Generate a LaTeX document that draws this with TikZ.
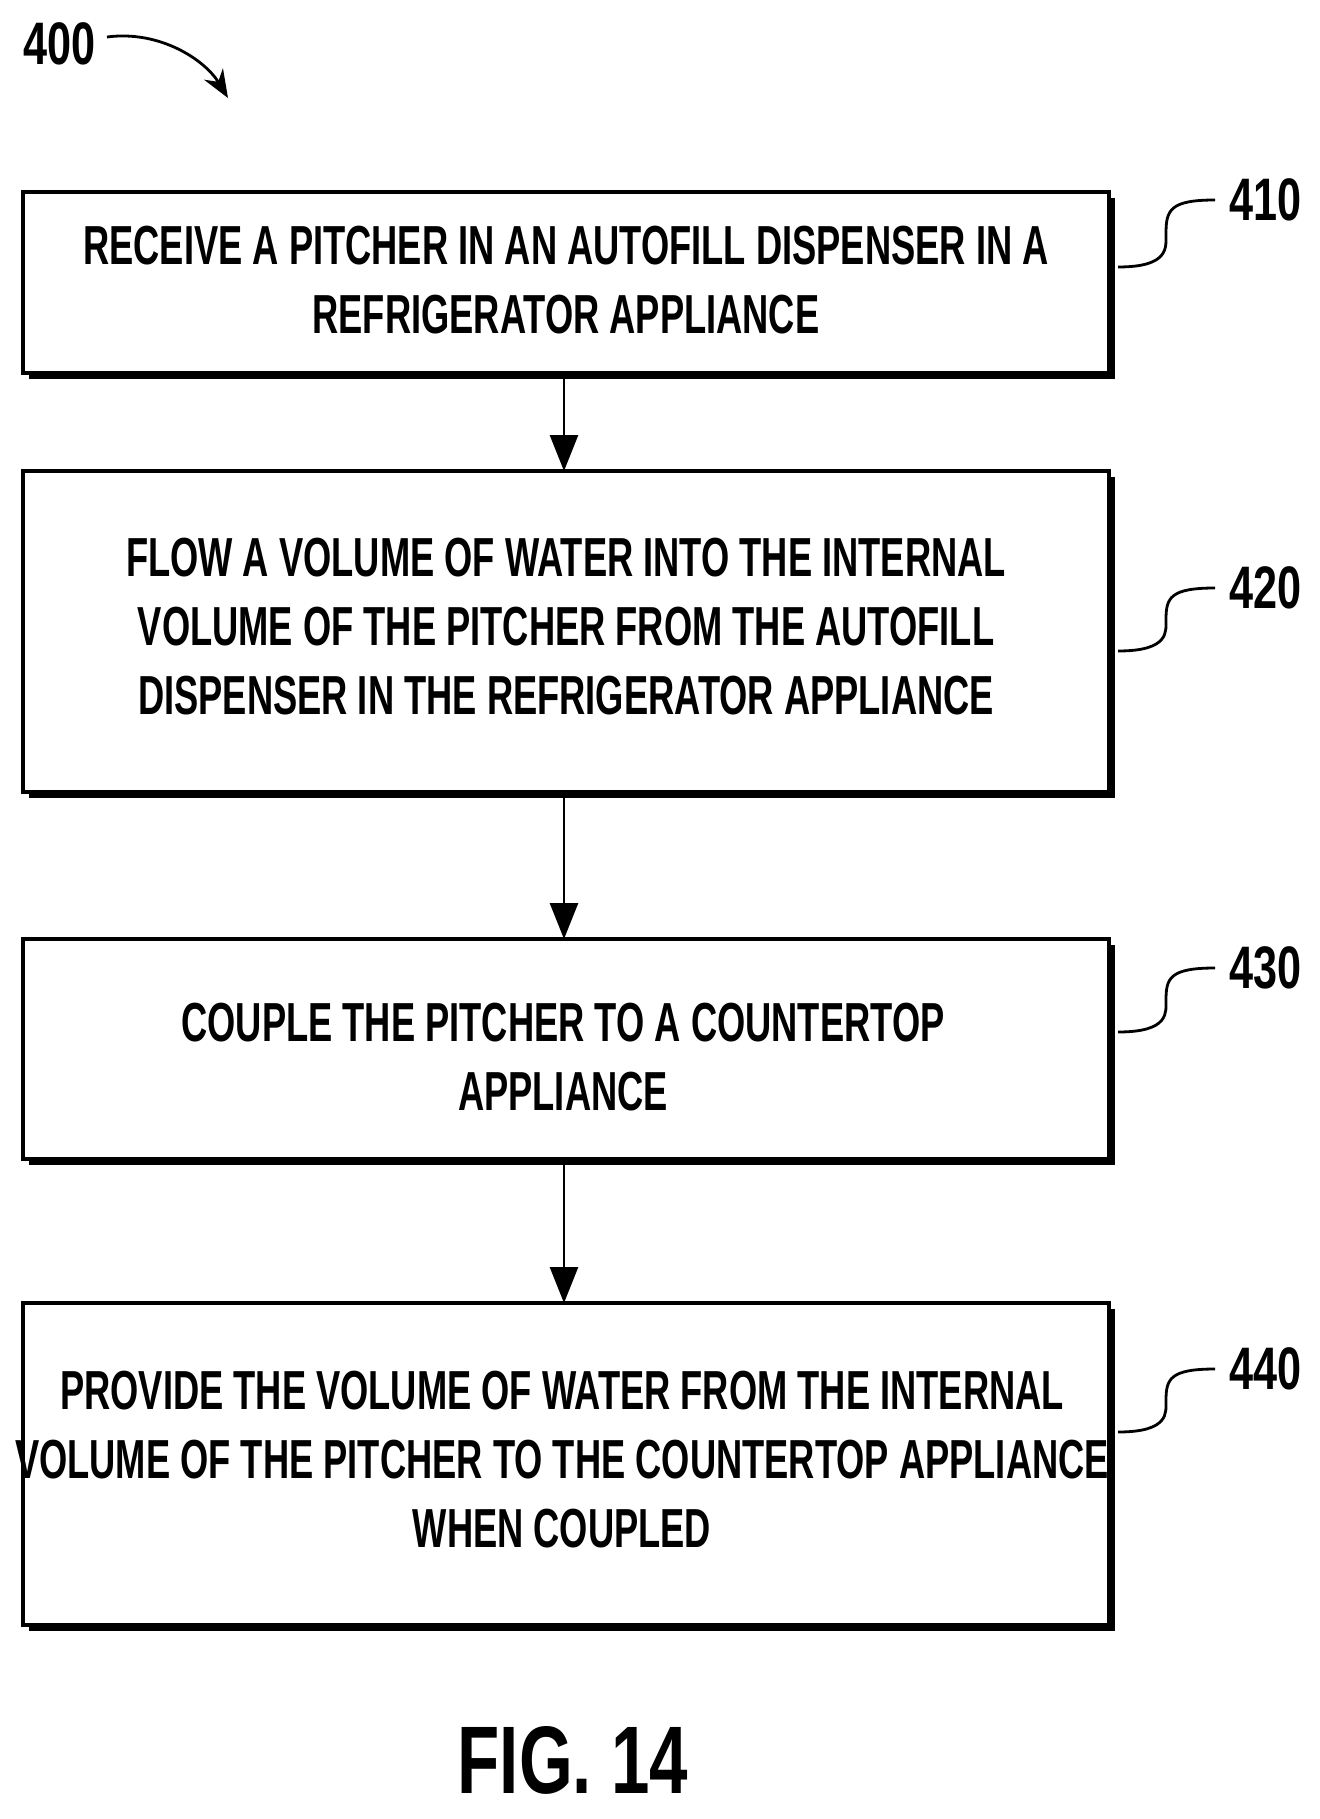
\documentclass[tikz,border=0pt]{standalone}
\usepackage{fontspec}
\newfontfamily\cond[FakeStretch=0.66]{Liberation Sans}
\newfontfamily\condl[FakeStretch=0.72]{Liberation Sans}
\usetikzlibrary{arrows.meta}
\begin{document}
\begin{tikzpicture}[x=0.5pt,y=-0.5pt,
 box/.style={draw,line width=1.8pt,fill=white,inner sep=0pt},
 txt/.style={align=center,font=\cond\bfseries\fontsize{27.5}{34.5}\selectfont},
 lbl/.style={font=\condl\bfseries\fontsize{30}{34}\selectfont,anchor=west},
 lead/.style={line width=1.4pt},
 arr/.style={line width=1.4pt,-{Triangle[length=18pt,width=14pt]}}]
\useasboundingbox (0,0) rectangle (1320,1819);
\foreach \t/\b/\n in {192/373/a,471/792/b,939/1159/c,1303/1625/d}{
  \fill (29,\t+6) rectangle (1115,\b+6);
  \node[box,minimum width=543pt,minimum height={(\b-\t)*0.5pt}] (\n) at (566,{(\t+\b)/2}) {};
}
\node[txt] (ta) at (566,280) {RECEIVE A PITCHER IN AN AUTOFILL DISPENSER IN A\\REFRIGERATOR APPLIANCE};
\node[txt] (tb) at (566,627) {FLOW A VOLUME OF WATER INTO THE INTERNAL\\VOLUME OF THE PITCHER FROM THE AUTOFILL\\DISPENSER IN THE REFRIGERATOR APPLIANCE};
\node[txt] (tc) at (563,1057) {COUPLE THE PITCHER TO A COUNTERTOP\\APPLIANCE};
\node[txt] (td) at (562,1460) {PROVIDE THE VOLUME OF WATER FROM THE INTERNAL\\VOLUME OF THE PITCHER TO THE COUNTERTOP APPLIANCE\\WHEN COUPLED};
\draw[arr] (564,379) -- (564,471);
\draw[arr] (564,798) -- (564,939);
\draw[arr] (564,1165) -- (564,1303);
\foreach \n/\y/\ly/\lab in {a/267/200/410,b/651/588/420,c/1032/968/430,d/1432/1369/440}{
  \node[lbl] (l\n) at (1222,\ly) {\lab};
  \draw[lead] (1118,\y) .. controls (1170,\y) and (1166,\y-20) .. (1166,{(\y+\ly)/2}) .. controls (1166,\ly+10) and (1170,\ly) .. (1215,\ly);
}
\node[lbl] (n400) at (16,44) {400};
\coordinate (e) at (228,98);
\draw[lead,-{Stealth[length=14pt,width=11pt]}] (107,37) .. controls (160,30) and (205,60) .. (e);
\node[font=\condl\bfseries\fontsize{48}{50}\selectfont] (fig) at (573,1760) {FIG. 14};
\end{tikzpicture}
\end{document}
